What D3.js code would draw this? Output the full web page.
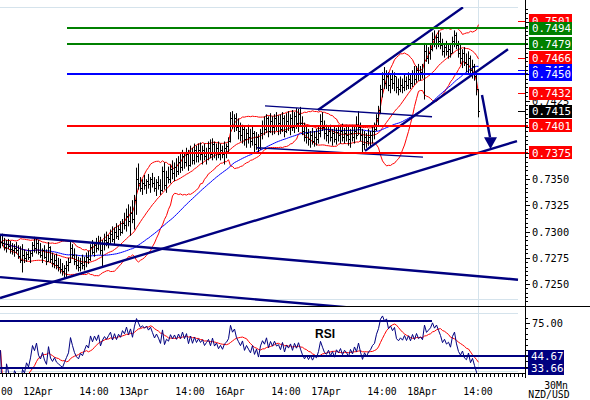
<!DOCTYPE html>
<html><head><meta charset="utf-8">
<script src="https://cdn.jsdelivr.net/npm/d3@7"></script>
<style>body{margin:0;background:#fff}svg{display:block}</style>
</head><body><svg id="c" width="590" height="400"></svg>
<script>
// ---- DATA (prices in pips: value/10000) ----
const highPips = [
7296,7298,7294,7292,7293,7291,7289,7288,7290,7287,
7286,7288,7283,7281,7284,7282,7290,7295,7293,7292,
7289,7284,7287,7283,7290,7286,7280,7278,7279,7275,
7274,7270,7268,7272,7275,7290,7288,7284,7278,7276,
7275,7278,7276,7280,7282,7288,7292,7290,7294,7296,
7295,7292,7298,7300,7297,7302,7305,7304,7308,7306,
7310,7312,7318,7322,7326,7324,7330,7335,7361,7365,
7352,7350,7354,7350,7355,7352,7356,7352,7350,7353,
7350,7362,7366,7358,7362,7364,7368,7366,7370,7372,
7374,7378,7376,7380,7378,7382,7380,7384,7382,7384,
7385,7382,7384,7380,7386,7388,7389,7386,7384,7386,
7384,7382,7386,7384,7390,7414,7415,7412,7413,7408,
7404,7402,7400,7398,7402,7398,7400,7396,7395,7393,
7398,7406,7410,7412,7410,7413,7410,7412,7414,7411,
7412,7414,7411,7413,7415,7412,7416,7414,7418,7417,
7419,7410,7404,7400,7398,7396,7399,7396,7398,7400,
7412,7414,7406,7402,7400,7402,7398,7401,7399,7402,
7400,7403,7399,7402,7400,7398,7402,7400,7410,7415,
7404,7398,7396,7394,7398,7396,7400,7404,7412,7420,
7440,7452,7457,7454,7452,7450,7454,7452,7448,7446,
7448,7446,7450,7448,7452,7450,7454,7458,7458,7460,
7458,7460,7480,7478,7476,7480,7490,7492,7488,7492,
7490,7484,7480,7482,7479,7480,7486,7492,7490,7482,
7478,7474,7476,7470,7472,7468,7464,7460,7452,7436];
const lowPips = [
7284,7286,7282,7280,7283,7279,7278,7276,7279,7274,
7270,7261,7270,7271,7273,7270,7276,7280,7279,7278,
7275,7270,7274,7268,7271,7270,7266,7265,7264,7262,
7260,7258,7255,7256,7262,7270,7274,7268,7264,7262,
7262,7264,7263,7266,7269,7272,7278,7276,7280,7282,
7278,7267,7282,7286,7284,7288,7290,7288,7293,7292,
7296,7298,7302,7300,7305,7296,7308,7302,7316,7340,
7338,7335,7340,7336,7341,7337,7342,7338,7334,7340,
7335,7338,7340,7337,7346,7346,7350,7348,7352,7354,
7356,7358,7360,7362,7358,7362,7364,7364,7366,7366,
7368,7364,7368,7364,7368,7370,7368,7370,7368,7370,
7368,7370,7364,7370,7374,7385,7398,7395,7396,7388,
7386,7384,7382,7380,7384,7380,7382,7376,7378,7374,
7378,7388,7392,7394,7390,7394,7392,7393,7396,7392,
7393,7395,7390,7394,7396,7392,7396,7394,7398,7395,
7400,7392,7386,7384,7382,7380,7383,7381,7382,7384,
7390,7396,7388,7386,7384,7386,7382,7385,7383,7386,
7384,7386,7384,7386,7382,7380,7386,7384,7388,7392,
7386,7376,7378,7380,7382,7380,7384,7388,7396,7400,
7412,7428,7436,7436,7434,7432,7436,7434,7432,7430,
7433,7432,7434,7435,7436,7436,7438,7440,7442,7444,
7444,7446,7426,7462,7460,7464,7472,7476,7474,7476,
7474,7468,7466,7468,7465,7466,7470,7476,7474,7466,
7460,7456,7458,7452,7450,7448,7446,7444,7430,7409];
const closePips = [
7290,7289,7285,7288,7286,7283,7282,7284,7282,7277,
7273,7278,7275,7279,7276,7280,7287,7284,7289,7281,
7278,7282,7276,7272,7285,7274,7270,7273,7268,7266,
7264,7262,7265,7268,7271,7284,7278,7272,7268,7266,
7270,7268,7272,7276,7274,7285,7281,7287,7284,7290,
7282,7288,7292,7290,7294,7298,7293,7300,7296,7302,
7300,7308,7306,7315,7310,7318,7312,7330,7350,7346,
7342,7346,7344,7348,7345,7350,7346,7342,7347,7344,
7340,7358,7344,7352,7350,7360,7356,7362,7358,7366,
7362,7372,7366,7374,7364,7376,7368,7378,7372,7378,
7374,7378,7372,7376,7380,7374,7384,7376,7380,7374,
7378,7374,7380,7382,7386,7408,7402,7408,7400,7396,
7392,7398,7388,7394,7390,7386,7394,7384,7390,7380,
7394,7402,7398,7408,7396,7406,7400,7408,7402,7404,
7398,7408,7396,7406,7402,7408,7400,7410,7404,7412,
7404,7396,7390,7394,7388,7392,7386,7390,7388,7394,
7406,7400,7394,7392,7396,7390,7394,7388,7395,7392,
7396,7390,7394,7392,7388,7394,7390,7396,7392,7400,
7392,7384,7390,7386,7390,7392,7396,7398,7408,7416,
7436,7446,7442,7448,7440,7446,7442,7448,7438,7436,
7440,7438,7444,7440,7446,7442,7450,7446,7454,7450,
7452,7450,7472,7466,7470,7474,7484,7480,7486,7482,
7478,7472,7476,7472,7474,7470,7482,7488,7478,7470,
7466,7470,7462,7460,7466,7454,7458,7448,7436,7415];
const firstOpenPips = 7292;

// time axis labels: bar index of each label
const timeLabels = ["14:00","12Apr","14:00","13Apr","14:00","16Apr","14:00","17Apr","14:00","18Apr","14:00"];
const timeLabelBars = [-1,19,47,67,95,115,143,163,191,211,239];

// price axis labels (those not hidden under the price tags)
const priceTicks = [0.7250,0.7275,0.7300,0.7325,0.7350,0.7375,0.7400,0.7425,0.7450,0.7475,0.7500];
const priceTickLabels = [0.7250,0.7275,0.7300,0.7325,0.7350,0.7425];
// support / resistance levels
const levelValues = [0.7494,0.7479,0.7450,0.7401,0.7375];
const levelKinds  = ["green","green","blue","red","red"];
// price tags on the right
const tagValues = [0.7501,0.7494,0.7479,0.7466,0.7454,0.7450,0.7432,0.7415,0.7401,0.7375];
const tagKinds  = ["red","green","green","red","blue","blue","red","black","red","red"];
const markerValues = [0.7501,0.7466,0.7454,0.7432,0.7415];
const markerKinds  = ["red","red","blue","red","black"];
// trend lines: [bar1, price1, bar2, price2]
const channelLines = [
  [0,0.72366,258.5,0.73864],
  [0,0.72970,259,0.72541],
  [0,0.72566,259,0.72136],
  [159,0.74160,231.5,0.75140],
  [182.5,0.73770,254,0.74740]
];
const rangeLines = [
  [132.5,0.74200,216,0.74096],
  [128.5,0.73800,211.5,0.73710]
];
const arrowPts = [241,0.74303,245,0.73900];
const arrowHead = [242,248.5,0.73900,245.25,0.73788];
// RSI levels: [bar1, bar2, value]
const rsiLevels = [[0,216,76.8],[130,264,44.67],[0,264,33.66]];
const rsiTicks = [75];
const rsiTags = [44.67,33.66];

// ---- helpers ----
const colors = {green:"#008000",red:"#ff0000",blue:"#0000ff",black:"#000000",navy:"#000080"};
const N = closePips.length;
const high = highPips.map(v=>v/10000), low = lowPips.map(v=>v/10000), close = closePips.map(v=>v/10000);
const open = close.map((c,i)=> i===0 ? firstOpenPips/10000 : close[i-1]);

const svg = d3.select("#c");
const x = d3.scaleLinear().domain([0,239]).range([0,478]);
const y = d3.scaleLinear().domain([0.72290,0.75143]).range([306,7]);
const yr = d3.scaleLinear().domain([30,84.2]).range([372,313]);

const defs = svg.append("defs");
defs.append("clipPath").attr("id","cm").append("rect").attr("x",0).attr("y",7).attr("width",523).attr("height",300);
defs.append("clipPath").attr("id","cr").append("rect").attr("x",0).attr("y",307).attr("width",523).attr("height",66);

const light = "#d5e3ec";
[[0,518,7.5],[0,518,299.5],[0,518,313.5],[0,518,371.5]].forEach(d=>
  svg.append("line").attr("x1",d[0]).attr("x2",d[1]).attr("y1",d[2]).attr("y2",d[2]).attr("stroke",light));
svg.append("line").attr("x1",Math.round(x(239))+0.5).attr("x2",Math.round(x(239))+0.5).attr("y1",0).attr("y2",372).attr("stroke",light);

// ---- indicators ----
function sma(arr,p){return arr.map((v,i)=>{const s=Math.max(0,i-p+1);return d3.mean(arr.slice(s,i+1));});}
function sd(arr,p){return arr.map((v,i)=>{const s=Math.max(0,i-p+1);const sl=arr.slice(s,i+1);return sl.length>1?d3.deviation(sl)*Math.sqrt((sl.length-1)/sl.length):0;});}
const mid = sma(close,20), dev = sd(close,20);
const upper = mid.map((m,i)=>m+2*dev[i]), lower = mid.map((m,i)=>m-2*dev[i]);
const ma50 = sma(close,50);
const RP = 10;
const rsi = [];
let ag=0, al=0;
for(let i=0;i<N;i++){
  if(i===0){rsi.push(50);continue;}
  const ch = close[i]-close[i-1], g=Math.max(ch,0), l=Math.max(-ch,0);
  if(i<=RP){ag=(ag*(i-1)+g)/i; al=(al*(i-1)+l)/i;}
  else {ag=(ag*(RP-1)+g)/RP; al=(al*(RP-1)+l)/RP;}
  rsi.push(al===0?100:100-100/(1+ag/al));
}
const rsiMa = sma(rsi,9);

const main = svg.append("g").attr("clip-path","url(#cm)");
const lineP = arr => d3.line().x((d,i)=>x(i)+0.5).y(d=>y(d))(arr);

levelValues.forEach((v,k)=>{
  svg.append("line").attr("x1",x(33.5)).attr("x2",x(264)).attr("y1",Math.round(y(v))).attr("y2",Math.round(y(v)))
   .attr("stroke",colors[levelKinds[k]]).attr("stroke-width",2);
});

[upper,lower,mid].forEach(a=>{
  main.append("path").attr("d",lineP(a)).attr("fill","none").attr("stroke","#ff0000").attr("stroke-width",1);
});
main.append("path").attr("d",lineP(ma50)).attr("fill","none").attr("stroke","#0000ff").attr("stroke-width",1);

const bars = main.append("g").attr("fill","#000");
d3.range(N).forEach(i=>{
  const bx = Math.round(x(i));
  bars.append("rect").attr("x",bx).attr("y",y(high[i])).attr("width",1).attr("height",Math.max(1,y(low[i])-y(high[i])));
  bars.append("rect").attr("x",bx-1).attr("y",Math.round(y(open[i]))).attr("width",1).attr("height",1);
  bars.append("rect").attr("x",bx+1).attr("y",Math.round(y(close[i]))).attr("width",1).attr("height",1);
});

channelLines.forEach(d=>main.append("line").attr("x1",x(d[0])).attr("y1",y(d[1])).attr("x2",x(d[2])).attr("y2",y(d[3]))
  .attr("stroke",colors.navy).attr("stroke-width",2.4));
rangeLines.forEach(d=>main.append("line").attr("x1",x(d[0])).attr("y1",y(d[1])).attr("x2",x(d[2])).attr("y2",y(d[3]))
  .attr("stroke",colors.navy).attr("stroke-width",1.3));
main.append("line").attr("x1",x(arrowPts[0])).attr("y1",y(arrowPts[1])).attr("x2",x(arrowPts[2])).attr("y2",y(arrowPts[3]))
  .attr("stroke",colors.navy).attr("stroke-width",2.4);
main.append("path").attr("d",`M${x(arrowHead[0])},${y(arrowHead[2])}L${x(arrowHead[1])},${y(arrowHead[2])}L${x(arrowHead[3])},${y(arrowHead[4])}Z`)
  .attr("fill",colors.navy);

// ---- RSI panel ----
const rp = svg.append("g").attr("clip-path","url(#cr)");
rsiLevels.forEach(d=>svg.append("line").attr("x1",x(d[0])).attr("x2",x(d[1])).attr("y1",Math.round(yr(d[2]))).attr("y2",Math.round(yr(d[2])))
  .attr("stroke",colors.navy).attr("stroke-width",2));
const rl = d3.line().x((d,i)=>x(i)+0.5).y(d=>yr(d));
rp.append("path").attr("d",rl(rsiMa)).attr("fill","none").attr("stroke","#ff0000").attr("stroke-width",1);
rp.append("path").attr("d",rl(rsi)).attr("fill","none").attr("stroke",colors.navy).attr("stroke-width",1);
svg.append("text").attr("x",315).attr("y",338).attr("font-family","Liberation Sans, Arial, sans-serif").attr("font-weight","bold")
  .attr("font-size",12).text("RSI");

// ---- axes ----
svg.append("line").attr("x1",0).attr("x2",590).attr("y1",306.5).attr("y2",306.5).attr("stroke","#000");
svg.append("line").attr("x1",525.5).attr("x2",525.5).attr("y1",0).attr("y2",378).attr("stroke","#000");
svg.append("line").attr("x1",0).attr("x2",525).attr("y1",373.5).attr("y2",373.5).attr("stroke","#000");
d3.range(-1,262,2).forEach(i=>{
  const px = Math.round(x(i))+0.5;
  if(px>0 && px<525) svg.append("line").attr("x1",px).attr("x2",px).attr("y1",373).attr("y2",377).attr("stroke","#000");
});
const minor = d3.range(0.7225,0.7515,0.0025/6);
minor.forEach(v=>{const py=Math.round(y(v))+0.5; if(py>0&&py<306)
  svg.append("line").attr("x1",525).attr("x2",528).attr("y1",py).attr("y2",py).attr("stroke","#000");});
priceTicks.forEach(v=>{const py=Math.round(y(v))+0.5;
  svg.append("line").attr("x1",525).attr("x2",530).attr("y1",py).attr("y2",py).attr("stroke","#000");});
const mono = "DejaVu Sans Mono, monospace";
priceTickLabels.forEach(v=>svg.append("text").attr("x",532).attr("y",y(v)+4).attr("font-family",mono).attr("font-size",10.3)
  .attr("fill","#000").text(v.toFixed(4)));
d3.range(35,85,5).forEach(v=>{const py=Math.round(yr(v))+0.5;
  svg.append("line").attr("x1",525).attr("x2",v%25===0?530:528).attr("y1",py).attr("y2",py).attr("stroke","#000");});
rsiTicks.forEach(v=>svg.append("text").attr("x",532).attr("y",yr(v)+4).attr("font-family",mono).attr("font-size",10.3).text(v.toFixed(2)));

markerValues.forEach((v,k)=>svg.append("line").attr("x1",518).attr("x2",525).attr("y1",Math.round(y(v))+0.5).attr("y2",Math.round(y(v))+0.5)
  .attr("stroke",colors[markerKinds[k]]));

tagValues.forEach((v,k)=>{
  const cy = y(v);
  svg.append("rect").attr("x",529).attr("y",Math.round(cy-6.5)).attr("width",43).attr("height",13).attr("fill",colors[tagKinds[k]]);
  svg.append("text").attr("x",532).attr("y",cy+4).attr("font-family",mono).attr("font-size",10.8).attr("fill","#fff").text(v.toFixed(4));
});
rsiTags.forEach(v=>{
  const cy = yr(v);
  svg.append("rect").attr("x",528).attr("y",Math.round(cy-6.5)).attr("width",36).attr("height",13).attr("fill",colors.navy);
  svg.append("text").attr("x",531).attr("y",cy+4).attr("font-family",mono).attr("font-size",10.8).attr("fill","#fff").text(v.toFixed(2));
});

timeLabels.forEach((t,k)=>svg.append("text").attr("x",x(timeLabelBars[k])).attr("y",395).attr("text-anchor","middle")
  .attr("font-family",mono).attr("font-size",9.8).text(t));
svg.append("text").attr("x",556).attr("y",389).attr("text-anchor","middle").attr("font-family",mono).attr("font-size",9.8).text("30Mn");
svg.append("text").attr("x",549).attr("y",398).attr("text-anchor","middle").attr("font-family",mono).attr("font-size",9.8).text("NZD/USD");
</script></body></html>
